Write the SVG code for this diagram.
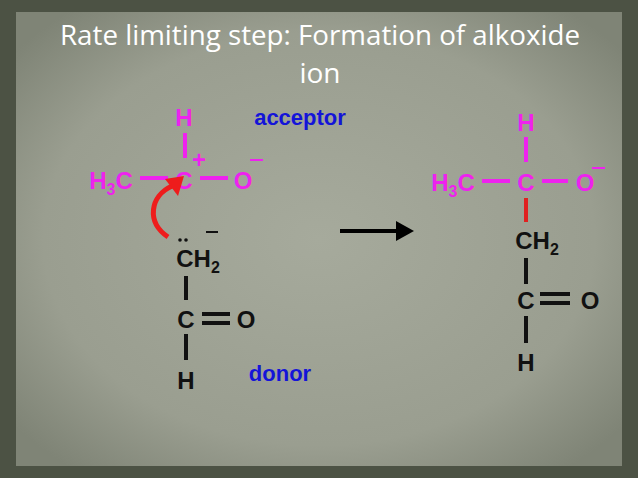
<svg xmlns="http://www.w3.org/2000/svg" width="638" height="478" viewBox="0 0 638 478">
<defs>
<radialGradient id="pg" cx="50%" cy="50%" r="65%"><stop offset="0" stop-color="#a6aa9c"/><stop offset="0.7" stop-color="#9a9e90"/><stop offset="1" stop-color="#7f8476"/></radialGradient>
</defs>
<style>
text{font-family:"Liberation Sans",Arial,sans-serif;font-weight:bold;font-size:24px;text-anchor:middle}
.m{fill:#ee22ee}.k{fill:#111}.b{fill:#1414d8;font-size:22px}
.s{font-size:16px}
.bm{stroke:#ee22ee;stroke-width:4}.bk{stroke:#111;stroke-width:4}
.t{font-family:"Open Sans","Liberation Sans",sans-serif;font-weight:normal;font-size:28px;fill:#fff}
</style>
<rect width="638" height="478" fill="#4c5244"/>
<rect x="16" y="12" width="606" height="454" fill="url(#pg)"/>
<text class="t" x="320" y="45" textLength="520" lengthAdjust="spacingAndGlyphs">Rate limiting step: Formation of alkoxide</text>
<text class="t" x="320" y="83">ion</text>
<g id="acceptor">
<text class="m" x="184" y="126">H</text>
<line class="bm" x1="185" y1="133" x2="185" y2="158"/>
<text class="m" x="199" y="168">+</text>
<text class="m" x="111" y="189">H<tspan class="s" dy="6">3</tspan><tspan dy="-6">C</tspan></text>
<line class="bm" x1="140" y1="178" x2="168" y2="178"/>
<text class="m" x="184" y="189">C</text>
<line class="bm" x1="200" y1="178" x2="228" y2="178"/>
<text class="m" x="243" y="189">O</text>
<line class="bm" x1="250" y1="160" x2="263" y2="160" style="stroke-width:2"/>
<text class="b" x="300" y="125">acceptor</text>
</g>
<g id="donor">
<circle cx="180" cy="240" r="1.8" fill="#111"/>
<circle cx="186" cy="240" r="1.8" fill="#111"/>
<line class="bk" x1="206" y1="232" x2="218" y2="232" style="stroke-width:2"/>
<text class="k" x="198" y="267">CH<tspan class="s" dy="6">2</tspan></text>
<line class="bk" x1="186" y1="276" x2="186" y2="300"/>
<text class="k" x="186" y="328">C</text>
<line class="bk" x1="202" y1="314" x2="230" y2="314"/>
<line class="bk" x1="202" y1="323" x2="230" y2="323"/>
<text class="k" x="246" y="328">O</text>
<line class="bk" x1="186" y1="334" x2="186" y2="360"/>
<text class="k" x="186" y="389">H</text>
<text class="b" x="280" y="381">donor</text>
</g>
<g id="product">
<text class="m" x="526" y="131">H</text>
<line class="bm" x1="526" y1="137" x2="526" y2="162"/>
<text class="m" x="453" y="191">H<tspan class="s" dy="6">3</tspan><tspan dy="-6">C</tspan></text>
<line class="bm" x1="482" y1="181" x2="510" y2="181"/>
<text class="m" x="526" y="191">C</text>
<line class="bm" x1="542" y1="181" x2="568" y2="181"/>
<text class="m" x="585" y="191">O</text>
<line class="bm" x1="592" y1="168" x2="605" y2="168" style="stroke-width:2"/>
<line x1="526" y1="198" x2="526" y2="222" stroke="#e02020" stroke-width="4"/>
<text class="k" x="537" y="249">CH<tspan class="s" dy="6">2</tspan></text>
<line class="bk" x1="526" y1="258" x2="526" y2="284"/>
<text class="k" x="526" y="309">C</text>
<line class="bk" x1="540" y1="294" x2="570" y2="294"/>
<line class="bk" x1="540" y1="303" x2="570" y2="303"/>
<text class="k" x="590" y="309">O</text>
<line class="bk" x1="526" y1="316" x2="526" y2="343"/>
<text class="k" x="526" y="371">H</text>
</g>
<g id="connectors">
<path d="M168,237 C146,222 150,196 172,186" fill="none" stroke="#ee1c1c" stroke-width="5"/>
<path d="M165,179 L184,176 L178,196 z" fill="#ee1c1c"/>
<line x1="340" y1="231" x2="398" y2="231" stroke="#000" stroke-width="4"/>
<path d="M396,221 L414,231 L396,241 z" fill="#000"/>
</g>
</svg>
